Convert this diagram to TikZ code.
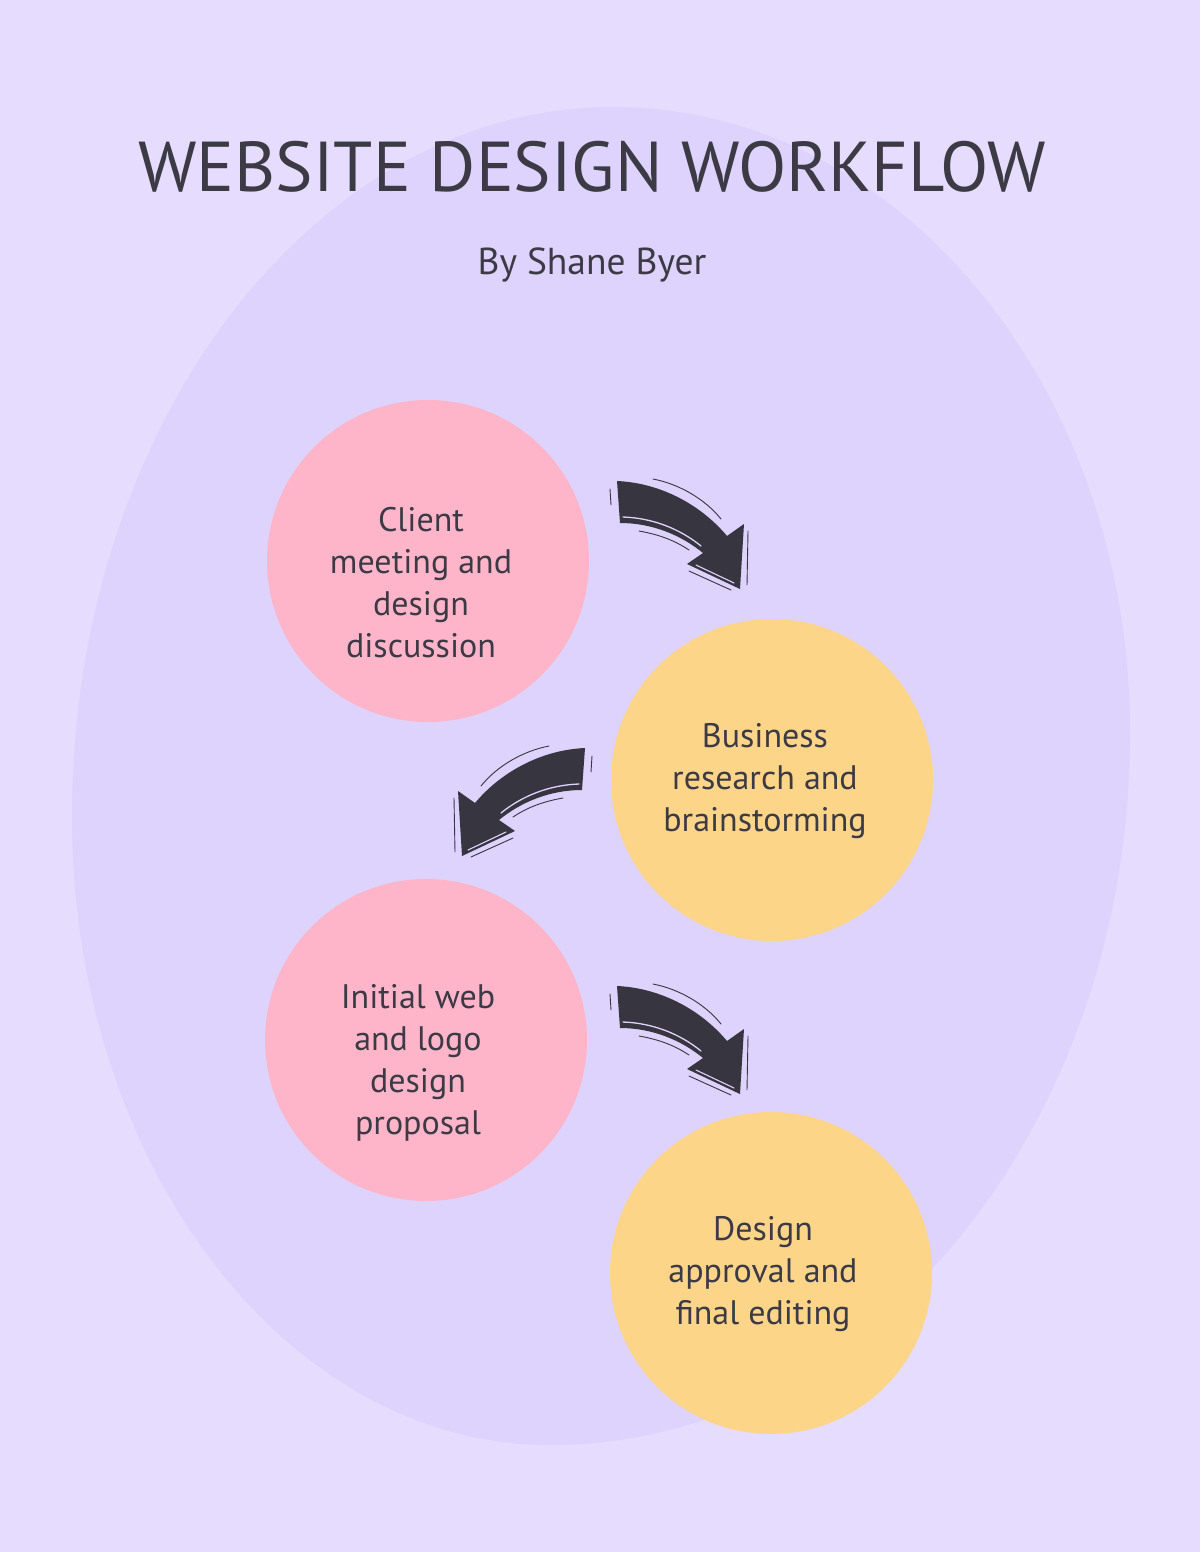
\documentclass[tikz,border=0pt]{standalone}
\usepackage{fontspec}
\setmainfont{PT Sans}
\definecolor{bgc}{HTML}{E5DCFE}
\definecolor{ellc}{HTML}{DDD3FD}
\definecolor{pinkc}{HTML}{FFB5C9}
\definecolor{yelc}{HTML}{FDD589}
\definecolor{txtc}{HTML}{3B3A45}
\definecolor{arrowc}{HTML}{37353F}
\tikzset{
  stepcircle/.style={circle, minimum size=322pt, inner sep=0pt, draw=none},
  steptext/.style={align=center, text=txtc, font=\fontsize{34}{42}\selectfont},
  hl/.style={draw=ellc, line cap=round},
  sk/.style={draw=arrowc, line width=0.9pt, line cap=round},
  flowarrow/.pic={
    \fill[arrowc] (0,0) .. controls (45,2) and (85,25) .. (110,55) -- (127,43) -- (123,108) -- (70,83) -- (86,72) .. controls (64,54) and (35,42) .. (3,42) -- cycle;
    \draw[hl, line width=1.3pt] (6,36) .. controls (36,37) and (63,48) .. (84,65);
    \draw[hl, line width=1.1pt] (79,84) -- (117,102);
    \draw[sk] (36,-2) .. controls (62,3) and (88,18) .. (104,38);
    \draw[sk] (-7,8) -- (-6,24);
    \draw[sk] (22,50) .. controls (45,54) and (60,61) .. (72,69);
    \draw[sk] (131,50) -- (130,104);
    \draw[sk] (72,90) -- (114,109);
  }
}
\begin{document}
\begin{tikzpicture}[x=1pt,y=-1pt]
\fill[bgc] (0,0) rectangle (1200,1552);
\useasboundingbox (0,0) rectangle (1200,1552);
\fill[ellc] (613,107) .. controls (898.5,107) and (1130,387.3) .. (1130,733)
  .. controls (1130,1126.2) and (870.3,1445) .. (550,1445)
  .. controls (286,1445) and (72,1163.8) .. (72,817)
  .. controls (72,424.9) and (314.2,107) .. (613,107) -- cycle;

\node[text=txtc, font=\fontsize{70.6}{80}\selectfont, anchor=base] (title) at (592,191) {WEBSITE DESIGN WORKFLOW};
\node[text=txtc, font=\fontsize{37.5}{42}\selectfont, anchor=base] (sub) at (592,274) {By Shane Byer};

\node[stepcircle, fill=pinkc] (c1) at (428,561) {};
\node[stepcircle, fill=yelc] (c2) at (772,780) {};
\node[stepcircle, fill=pinkc] (c3) at (426,1040) {};
\node[stepcircle, fill=yelc] (c4) at (771,1273) {};

\node[steptext] (t1) at (421,583) {Client\\meeting and\\design\\discussion};
\node[steptext] (t2) at (765,781) {Business\\research and\\brainstorming};
\node[steptext] (t3) at (418,1063) {Initial web\\and logo\\design\\proposal};
\node[steptext] (t4) at (763,1274) {Design\\approval and\\final editing};

\pic at (617,481) {flowarrow};
\pic[xscale=-1] at (585,748) {flowarrow};
\pic at (617,986) {flowarrow};
\end{tikzpicture}
\end{document}
